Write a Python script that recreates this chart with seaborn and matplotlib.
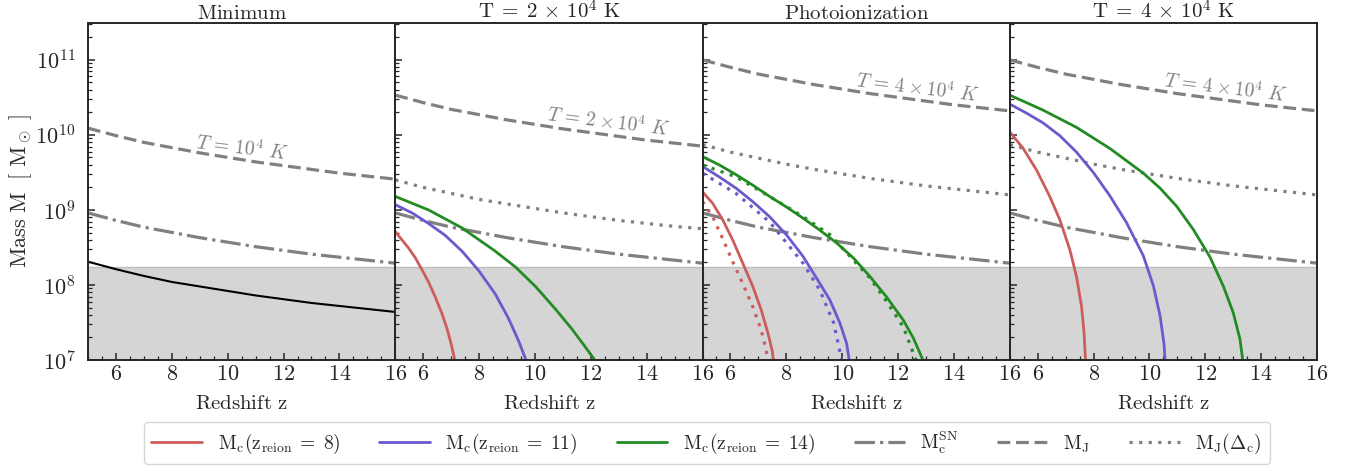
import numpy as np
import matplotlib
matplotlib.use("Agg")
import matplotlib.pyplot as plt
from matplotlib.lines import Line2D
from matplotlib.ticker import MultipleLocator
import seaborn as sns

# ---------------------------------------------------------------------------
# datos (log10 de la masa en M_sun)
# ---------------------------------------------------------------------------
z_grid = [5, 6, 7, 8, 9, 10, 11, 12, 13, 14, 15, 16]

logM_J_1e4 = [10.09, 9.99, 9.90, 9.83, 9.76, 9.70, 9.64, 9.59, 9.54, 9.49, 9.45, 9.41]
logM_J_2e4 = [10.53, 10.43, 10.34, 10.27, 10.20, 10.14, 10.08, 10.03, 9.98, 9.93, 9.89, 9.85]
logM_J_4e4 = [11.00, 10.90, 10.81, 10.74, 10.67, 10.61, 10.55, 10.50, 10.45, 10.40, 10.36, 10.32]
logM_Jdc_2e4 = [9.40, 9.30, 9.22, 9.14, 9.08, 9.02, 8.96, 8.91, 8.86, 8.82, 8.78, 8.75]
logM_Jdc_4e4 = [9.87, 9.77, 9.69, 9.61, 9.54, 9.48, 9.42, 9.37, 9.32, 9.28, 9.24, 9.20]
logM_SN = [8.96, 8.86, 8.77, 8.70, 8.63, 8.57, 8.51, 8.46, 8.41, 8.37, 8.33, 8.29]
logM_min = [8.31, 8.21, 8.12, 8.04, 7.98, 7.92, 7.86, 7.81, 7.76, 7.72, 7.68, 7.64]

# M_c para T = 2e4 K
mc2_z8 = ([5, 5.24, 5.48, 5.72, 5.96, 6.19, 6.43, 6.67, 6.85, 7.01, 7.13],
          [8.71, 8.60, 8.49, 8.36, 8.20, 8.04, 7.84, 7.62, 7.42, 7.20, 7.0])
mc2_z11 = ([5, 5.6, 6.19, 6.79, 7.39, 7.99, 8.58, 9.06, 9.42, 9.68],
           [9.07, 8.96, 8.82, 8.66, 8.45, 8.19, 7.88, 7.55, 7.25, 7.0])
mc2_z14 = ([5, 6.19, 7.39, 8.58, 9.30, 10.02, 10.73, 11.33, 11.81, 12.14],
           [9.18, 9.00, 8.76, 8.45, 8.24, 7.98, 7.68, 7.41, 7.17, 7.0])

# M_c fotoionizacion (solido) y aproximacion (punteado)
mcp_z8 = ([5, 5.36, 5.72, 6.08, 6.44, 6.8, 7.1, 7.34, 7.49, 7.54],
          [9.24, 9.09, 8.87, 8.60, 8.29, 7.98, 7.67, 7.36, 7.13, 7.0])
mcp_z11 = ([5, 5.6, 6.2, 6.8, 7.4, 8.0, 8.6, 9.2, 9.56, 9.92, 10.16, 10.25],
           [9.58, 9.44, 9.29, 9.11, 8.91, 8.67, 8.38, 8.02, 7.80, 7.49, 7.22, 7.0])
mcp_z14 = ([5, 5.6, 6.2, 6.8, 7.4, 8.0, 8.6, 9.2, 9.8, 10.4, 11.0, 11.59, 12.19, 12.55, 12.89],
           [9.71, 9.60, 9.47, 9.33, 9.18, 9.04, 8.89, 8.73, 8.56, 8.36, 8.11, 7.84, 7.53, 7.29, 7.0])
mcpd_z8 = ([5, 5.36, 5.72, 6.08, 6.44, 6.8, 7.1, 7.28, 7.34],
           [9.11, 8.91, 8.62, 8.31, 8.02, 7.71, 7.40, 7.13, 7.0])
mcpd_z11 = ([5, 6.2, 7.4, 8.6, 9.2, 9.7, 9.98],
            [9.49, 9.22, 8.84, 8.29, 7.93, 7.49, 7.0])
mcpd_z14 = ([5, 6.2, 7.4, 8.6, 9.56, 11.0, 11.59, 12.19, 12.64],
            [9.60, 9.44, 9.18, 8.91, 8.67, 8.09, 7.78, 7.44, 7.0])

# M_c para T = 4e4 K
mc4_z8 = ([5, 5.48, 5.96, 6.43, 6.79, 7.15, 7.39, 7.57, 7.66, 7.71],
          [10.04, 9.82, 9.53, 9.18, 8.87, 8.47, 8.11, 7.71, 7.36, 7.0])
mc4_z11 = ([5, 5.6, 6.19, 6.79, 7.39, 7.99, 8.58, 9.18, 9.78, 10.14, 10.38, 10.52, 10.56],
           [10.41, 10.29, 10.16, 9.99, 9.77, 9.50, 9.19, 8.83, 8.39, 7.99, 7.59, 7.22, 7.0])
mc4_z14 = ([5, 6.19, 7.39, 8.58, 9.78, 10.38, 10.97, 11.57, 12.17, 12.65, 13.0, 13.24, 13.34],
           [10.53, 10.33, 10.10, 9.82, 9.49, 9.29, 9.05, 8.74, 8.37, 7.98, 7.63, 7.28, 7.0])

M_limite = 1.75e8  # banda gris

titulos = [r"$\mathrm{Minimum}$", r"$\mathrm{T}\; = \;2 \,\times\, 10^4\ \mathrm{K}$",
           r"$\mathrm{Photoionization}$", r"$\mathrm{T}\; = \;4 \,\times\, 10^4\ \mathrm{K}$"]
etiquetas_T = [r"$T\, = \,10^4\ K$", r"$T\, = \,2\times 10^4\ K$",
               r"$T\, = \,4\times 10^4\ K$", r"$T\, = \,4\times 10^4\ K$"]
pos_T = [(10.5, 9.83), (12.63, 10.17), (12.7, 10.63), (12.74, 10.63)]

ROJO, AZUL, VERDE, GRIS = "#cd5c5c", "#6a5acd", "#228b22", "#808080"

# ---------------------------------------------------------------------------
# estilo
# ---------------------------------------------------------------------------
sns.set_style("ticks")
plt.rcParams["font.family"] = "serif"
plt.rcParams["font.serif"] = ["cmr10", "DejaVu Serif"]
plt.rcParams["mathtext.fontset"] = "cm"
plt.rcParams["axes.formatter.use_mathtext"] = True
plt.rcParams["axes.linewidth"] = 1.4

DASH = (0, (4, 1.8))
DOT = (0, (1, 2))
DASHDOT = "-."


def linea(ax, zs, logm, color, ls="-", lw=2.0):
    sns.lineplot(x=np.array(zs), y=10 ** np.array(logm), ax=ax, color=color,
                 linestyle=ls, linewidth=lw, sort=False, estimator=None)


fig, axes = plt.subplots(1, 4, figsize=(13.54, 4.71), dpi=100, sharey=True)
fig.subplots_adjust(left=0.065, right=0.9727, top=0.951, bottom=0.2357, wspace=0)

for ax in axes:
    ax.set_yscale("log")
    ax.set_xlim(5, 16)
    ax.set_ylim(1e7, 10 ** 11.49)
    ax.axhspan(1e7, M_limite, facecolor="#d5d5d5", edgecolor="#bdbdbd", lw=1, zorder=0)

# panel 1
linea(axes[0], z_grid, logM_J_1e4, GRIS, DASH, 2.3)
linea(axes[0], z_grid, logM_SN, GRIS, DASHDOT, 2.3)
linea(axes[0], z_grid, logM_min, "black", "-", 1.5)

# panel 2
linea(axes[1], z_grid, logM_J_2e4, GRIS, DASH, 2.3)
linea(axes[1], z_grid, logM_Jdc_2e4, GRIS, DOT, 2.3)
linea(axes[1], z_grid, logM_SN, GRIS, DASHDOT, 2.3)
for (zs, lm), c in zip([mc2_z8, mc2_z11, mc2_z14], [ROJO, AZUL, VERDE]):
    linea(axes[1], zs, lm, c)

# panel 3
linea(axes[2], z_grid, logM_J_4e4, GRIS, DASH, 2.3)
linea(axes[2], z_grid, logM_Jdc_4e4, GRIS, DOT, 2.3)
linea(axes[2], z_grid, logM_SN, GRIS, DASHDOT, 2.3)
for (zs, lm), c in zip([mcp_z8, mcp_z11, mcp_z14], [ROJO, AZUL, VERDE]):
    linea(axes[2], zs, lm, c)
for (zs, lm), c in zip([mcpd_z8, mcpd_z11, mcpd_z14], [ROJO, AZUL, VERDE]):
    linea(axes[2], zs, lm, c, DOT, 2.3)

# panel 4
linea(axes[3], z_grid, logM_J_4e4, GRIS, DASH, 2.3)
linea(axes[3], z_grid, logM_Jdc_4e4, GRIS, DOT, 2.3)
linea(axes[3], z_grid, logM_SN, GRIS, DASHDOT, 2.3)
for (zs, lm), c in zip([mc4_z8, mc4_z11, mc4_z14], [ROJO, AZUL, VERDE]):
    linea(axes[3], zs, lm, c)

for i, ax in enumerate(axes):
    ax.set_title(titulos[i], fontsize=15, pad=2)
    ax.set_xlabel(r"$\mathrm{Redshift\ z}$", fontsize=15, labelpad=8)
    ax.xaxis.set_major_locator(MultipleLocator(2))
    ax.xaxis.set_minor_locator(MultipleLocator(0.5))
    ax.tick_params(which="both", direction="in", labelsize=16)
    ax.tick_params(which="major", length=5, width=1.1)
    ax.tick_params(which="minor", length=3, width=0.9)
    ax.tick_params(axis="y", which="major", pad=9)
    zx, ly = pos_T[i]
    ax.text(zx, 10 ** ly, etiquetas_T[i], color=GRIS, fontsize=14,
            rotation=-7, ha="center", va="center")

axes[0].set_ylabel(r"$\mathrm{Mass\ M\ \ [\ M_\odot\ ]}$", fontsize=16, labelpad=1)

handles = [
    Line2D([], [], color=ROJO, lw=2),
    Line2D([], [], color=AZUL, lw=2),
    Line2D([], [], color=VERDE, lw=2),
    Line2D([], [], color=GRIS, lw=2.3, ls=DASHDOT),
    Line2D([], [], color=GRIS, lw=2.3, ls=DASH),
    Line2D([], [], color=GRIS, lw=2.3, ls=DOT),
]
labels = [r"$\mathrm{M_c(z_{reion}}\; = \;\mathrm{8)}$",
          r"$\mathrm{M_c(z_{reion}}\; = \;\mathrm{11)}$",
          r"$\mathrm{M_c(z_{reion}}\; = \;\mathrm{14)}$", r"$\mathrm{M_c^{SN}}$",
          r"$\mathrm{M_J}$", r"$\mathrm{M_J(\Delta_c)}$"]
fig.legend(handles, labels, loc="lower center", bbox_to_anchor=(0.522, -0.006),
           ncol=6, fontsize=14, handlelength=2.6, columnspacing=2.0,
           frameon=True, fancybox=True)

plt.savefig("out.png", dpi=100)
